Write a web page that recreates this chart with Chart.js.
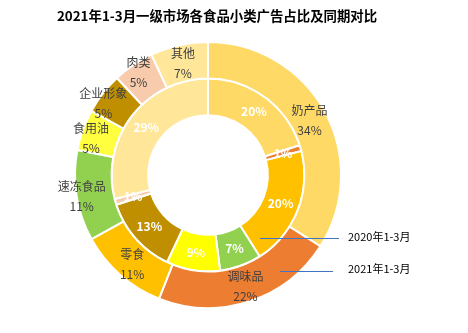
<!DOCTYPE html>
<html><head><meta charset="utf-8">
<script src="https://cdn.jsdelivr.net/npm/chart.js@4/dist/chart.umd.min.js"></script>
<style>html,body{margin:0;padding:0;background:#fff;}canvas{display:block;}</style>
</head><body>
<canvas id="c" width="468" height="333"></canvas>
<script>
const categories = ['奶产品','调味品','零食','速冻食品','食用油','企业形象','肉类','其他'];
const values2021 = [34,22,11,11,5,5,5,7];
const values2020 = [20,1,20,7,9,13,1,29];
const seriesNames = ['2021年1-3月','2020年1-3月'];
const colors2021 = ['#FFD966','#ED7D31','#FFC000','#92D050','#FFFF40','#BF8F00','#F8CBAD','#FFE699'];
const colors2020 = ['#FFD966','#ED7D31','#FFC000','#92D050','#FFFF00','#BF8F00','#F8CBAD','#FFE699'];
const titleText = '2021年1-3月一级市场各食品小类广告占比及同期对比';
const FONT = '"Noto Sans CJK SC","Microsoft YaHei",sans-serif';
// manual nudges of the outer data labels (dx, dy in px)
const outerLabelNudge = [[1,1],[2,2],[0,3],[-13,3],[-9,2],[-14,-1],[-5,-8],[0,0]];

const labelPlugin = {
  id:'labels',
  afterDatasetsDraw(chart){
    const ctx = chart.ctx;
    ctx.save();
    ctx.textAlign='center'; ctx.textBaseline='middle';
    chart.getDatasetMeta(0).data.forEach((arc,i)=>{
      const p = arc.getProps(['x','y','startAngle','endAngle','innerRadius','outerRadius'],true);
      const a=(p.startAngle+p.endAngle)/2, r=(p.innerRadius+p.outerRadius)/2;
      const x=p.x+Math.cos(a)*r+outerLabelNudge[i][0], y=p.y+Math.sin(a)*r+outerLabelNudge[i][1];
      ctx.fillStyle='#404040';
      ctx.font='12px '+FONT;
      ctx.fillText(categories[i],x,y-10);
      ctx.fillText(values2021[i]+'%',x,y+10);
    });
    chart.getDatasetMeta(1).data.forEach((arc,i)=>{
      const p = arc.getProps(['x','y','startAngle','endAngle','innerRadius','outerRadius'],true);
      const a=(p.startAngle+p.endAngle)/2, r=(p.innerRadius+p.outerRadius)/2;
      const x=p.x+Math.cos(a)*r, y=p.y+Math.sin(a)*r;
      ctx.fillStyle='#ffffff';
      ctx.font='bold 12px '+FONT;
      ctx.fillText(values2020[i]+'%',x,y);
    });
    ctx.strokeStyle='#4472C4'; ctx.lineWidth=1;
    ctx.beginPath(); ctx.moveTo(260,238.5); ctx.lineTo(339,238.5); ctx.stroke();
    ctx.beginPath(); ctx.moveTo(280,271.5); ctx.lineTo(333,271.5); ctx.stroke();
    ctx.fillStyle='#000'; ctx.font='11px '+FONT; ctx.textAlign='left';
    ctx.fillText(seriesNames[1],348,237);
    ctx.fillText(seriesNames[0],348,269);
    ctx.textAlign='center';
    ctx.font='bold 13.4px '+FONT;
    ctx.fillText(titleText,217,16);
    ctx.restore();
  }
};

new Chart(document.getElementById('c'),{
  type:'doughnut',
  data:{labels:categories,datasets:[
    {label:seriesNames[0],data:values2021,backgroundColor:colors2021,borderColor:'#fff',borderWidth:2,hoverOffset:0},
    {label:seriesNames[1],data:values2020,backgroundColor:colors2020,borderColor:'#fff',borderWidth:2,hoverOffset:0}
  ]},
  options:{
    responsive:false,animation:false,cutout:'45%',
    layout:{padding:{left:74,right:126,top:41,bottom:24}},
    plugins:{legend:{display:false},tooltip:{enabled:false},title:{display:false}}
  },
  plugins:[labelPlugin]
});
</script>
</body></html>
